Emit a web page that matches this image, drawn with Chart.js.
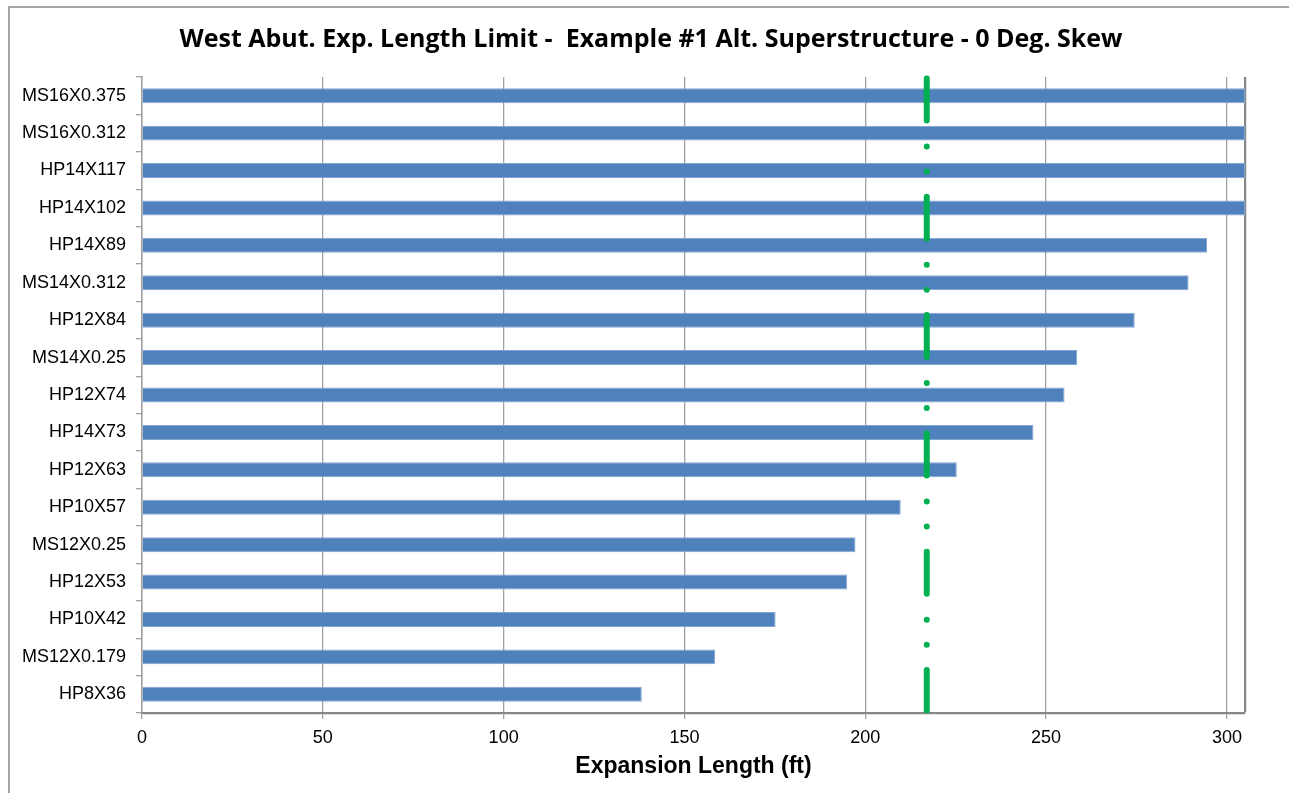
<!DOCTYPE html>
<html>
<head>
<meta charset="utf-8">
<title>West Abut. Exp. Length Limit</title>
<script src="https://cdn.jsdelivr.net/npm/chart.js@4.4.0/dist/chart.umd.min.js"></script>
<style>
  html, body { margin: 0; padding: 0; background: #fff; overflow: hidden; }
  #frame {
    position: absolute; left: 8px; top: 6px; width: 1400px; height: 900px;
    border-left: 2px solid #a6a6a6; border-top: 2px solid #a6a6a6;
  }
  #wrap { position: absolute; left: 0; top: 0; width: 1289px; height: 793px; }
</style>
</head>
<body>
<div id="frame"></div>
<div id="wrap"><canvas id="chart" width="1289" height="793"></canvas></div>
<script>
// Pile sections, listed top to bottom
const sections = [
  'MS16X0.375', 'MS16X0.312', 'HP14X117', 'HP14X102', 'HP14X89',
  'MS14X0.312', 'HP12X84', 'MS14X0.25', 'HP12X74', 'HP14X73',
  'HP12X63', 'HP10X57', 'MS12X0.25', 'HP12X53', 'HP10X42',
  'MS12X0.179', 'HP8X36'
];

// Allowable expansion length for each section (ft)
const expansionLengths = [
  305, 305, 305, 305, 294.5,
  289.4, 274.5, 258.6, 255.1, 246.5,
  225.3, 209.8, 197.3, 195.0, 175.2,
  158.5, 138.2
];

// Expansion length of the structure (ft)
const limitLength = [217];

// Axis tick labels and extent
const axisTicks = [0, 50, 100, 150, 200, 250, 300];
const axisRange = [0, 305];

const titleText = 'West Abut. Exp. Length Limit -  Example #1 Alt. Superstructure - 0 Deg. Skew';
const axisTitleText = 'Expansion Length (ft)';

const LABEL_FONT = '"Liberation Sans", Arial, sans-serif';
const GRID_GREY = '#a0a0a0';
const FRAME_GREY = '#868686';

// Dash-dot-dot reference line at the structure length
const limitLine = {
  id: 'limitLine',
  afterDatasetsDraw(chart) {
    const { ctx, chartArea, scales } = chart;
    const px = scales.x.getPixelForValue(limitLength[0]);
    ctx.save();
    ctx.beginPath();
    ctx.rect(chartArea.left, chartArea.top - 2, chartArea.right - chartArea.left, chartArea.bottom - chartArea.top + 2);
    ctx.clip();
    ctx.strokeStyle = '#00B050';
    ctx.lineWidth = 6;
    ctx.lineCap = 'round';
    ctx.setLineDash([42, 26, 0, 25, 0, 25.3]);
    ctx.beginPath();
    ctx.moveTo(px, chartArea.top + 1.5);
    ctx.lineTo(px, chartArea.bottom + 4);
    ctx.stroke();
    ctx.restore();
  }
};

// Chart heading
const chartHeading = {
  id: 'chartHeading',
  afterDraw(chart) {
    const { ctx } = chart;
    ctx.save();
    ctx.font = 'bold 25px "Open Sans", Lato, sans-serif';
    ctx.fillStyle = '#000';
    ctx.textAlign = 'center';
    ctx.textBaseline = 'alphabetic';
    ctx.fillText(titleText, 651, 47);
    ctx.restore();
  }
};

const isFrameTick = (c) => c.tick && c.tick.value === axisRange[1];

new Chart(document.getElementById('chart'), {
  type: 'bar',
  data: {
    labels: sections,
    datasets: [{
      data: expansionLengths,
      backgroundColor: '#4F81BD',
      borderColor: '#82a5d2',
      borderWidth: 1,
      barPercentage: 0.4,
      categoryPercentage: 1
    }]
  },
  options: {
    indexAxis: 'y',
    responsive: false,
    animation: false,
    devicePixelRatio: 1,
    layout: { padding: { left: 0, right: 44, top: 77, bottom: 0 } },
    plugins: {
      legend: { display: false },
      tooltip: { enabled: false },
      title: { display: false }
    },
    scales: {
      x: {
        type: 'linear',
        min: axisRange[0],
        max: axisRange[1],
        afterFit(scale) { scale.height = 80; },
        afterBuildTicks(scale) {
          scale.ticks = axisTicks.concat([axisRange[1]]).map((value) => ({ value }));
        },
        ticks: {
          padding: 8,
          color: '#000',
          autoSkip: false,
          maxRotation: 0,
          font: { family: LABEL_FONT, size: 18 },
          callback: (v) => axisTicks.includes(v) ? String(v) : ''
        },
        grid: {
          drawOnChartArea: true,
          drawTicks: true,
          tickLength: 6,
          color: (c) => isFrameTick(c) ? FRAME_GREY : GRID_GREY,
          lineWidth: (c) => isFrameTick(c) ? 2.2 : 1.3,
          tickColor: (c) => isFrameTick(c) ? 'rgba(0,0,0,0)' : GRID_GREY
        },
        border: { display: true, color: FRAME_GREY, width: 2.2 },
        title: {
          display: true,
          text: axisTitleText,
          color: '#000',
          font: { family: LABEL_FONT, size: 23, weight: 'bold' },
          padding: { top: 0, bottom: 13 }
        }
      },
      y: {
        type: 'category',
        afterFit(scale) { scale.width = 142; },
        ticks: {
          autoSkip: false,
          padding: 10,
          color: '#000',
          font: { family: LABEL_FONT, size: 18 }
        },
        grid: {
          offset: true,
          drawOnChartArea: false,
          drawTicks: true,
          tickLength: 6,
          color: GRID_GREY,
          lineWidth: 1.3
        },
        border: { display: true, color: GRID_GREY, width: 1.5 }
      }
    }
  },
  plugins: [limitLine, chartHeading]
});
</script>
</body>
</html>
